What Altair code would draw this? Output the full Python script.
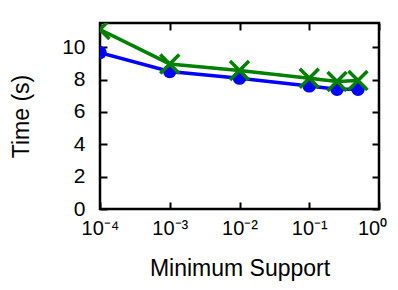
import altair as alt
import pandas as pd

support = [1e-4, 1e-3, 1e-2, 1e-1, 0.25, 0.5]
series_a = [9.67, 8.5, 8.09, 7.61, 7.4, 7.4]
series_b = [11.1, 8.97, 8.56, 8.09, 7.88, 7.94]
x_ticks = [1e-4, 1e-3, 1e-2, 1e-1, 1]
y_ticks = [0, 2, 4, 6, 8, 10]

df = pd.DataFrame({
    "support": support * 2,
    "time": series_a + series_b,
    "series": ["A"] * len(support) + ["B"] * len(support),
})

FONT = "Liberation Sans"
xs = alt.Scale(type="log", domain=[1e-4, 1], nice=False)
ys = alt.Scale(domain=[0, 11.5], nice=False, zero=True)

label_expr = ("datum.value >= 0.9 ? '10⁰' : datum.value >= 0.09 ? '10⁻¹' : "
              "datum.value >= 0.009 ? '10⁻²' : datum.value >= 0.0009 ? '10⁻³' : '10⁻⁴'")

TK = 7
x_bottom = alt.Axis(orient="bottom", values=x_ticks, labelExpr=label_expr, offset=-TK,
                    tickSize=TK, tickWidth=2, tickColor="black", domain=False, grid=False,
                    labelFont=FONT, labelFontSize=20, labelColor="black", labelPadding=9,
                    labelFlush=False, labelOverlap=False, labelBound=False,
                    labelOffset=alt.condition("datum.value >= 0.9", alt.value(-7), alt.value(0)),
                    title="Minimum Support", titleFont=FONT, titleFontSize=23,
                    titleFontWeight="normal", titleColor="black", titlePadding=19)
x_top = alt.Axis(orient="top", values=x_ticks, offset=-TK, tickSize=TK, tickWidth=2,
                 tickColor="black", domain=False, grid=False, labels=False, title=None)
y_left = alt.Axis(orient="left", values=y_ticks, offset=-TK, tickSize=TK, tickWidth=2,
                  tickColor="black", domain=False, grid=False,
                  labelFont=FONT, labelFontSize=21, labelColor="black", labelPadding=15,
                  title="Time (s)", titleFont=FONT, titleFontSize=23,
                  titleFontWeight="normal", titleColor="black", titlePadding=28)
y_right = alt.Axis(orient="right", values=y_ticks, offset=-TK, tickSize=TK, tickWidth=2,
                   tickColor="black", domain=False, grid=False, labels=False, title=None)

base = alt.Chart(df)
a = base.transform_filter(alt.datum.series == "A")
b = base.transform_filter(alt.datum.series == "B")

line_a = a.mark_line(color="#0000ff", strokeWidth=3.5, clip=True).encode(
    x=alt.X("support:Q", scale=xs, axis=x_bottom),
    y=alt.Y("time:Q", scale=ys, axis=y_left),
)
pts_a = a.mark_point(shape="circle", filled=True, opacity=1, color="#0000ff", size=180, clip=True).encode(
    x=alt.X("support:Q", scale=xs, axis=x_top),
    y=alt.Y("time:Q", scale=ys, axis=y_right),
)
line_b = b.mark_line(color="#008000", strokeWidth=3.5, clip=True).encode(
    x=alt.X("support:Q", scale=xs, axis=None),
    y=alt.Y("time:Q", scale=ys, axis=None),
)
pts_b = b.mark_point(shape="M-1,-1L1,1M-1,1L1,-1", filled=False, opacity=1, color="#008000",
                     strokeWidth=3.5, size=360, clip=True).encode(
    x=alt.X("support:Q", scale=xs, axis=None),
    y=alt.Y("time:Q", scale=ys, axis=None),
)

chart = alt.layer(line_a, pts_a, line_b, pts_b).resolve_axis(
    x="independent", y="independent"
).properties(
    width=279, height=186,
    background="white",
    autosize=alt.AutoSizeParams(type="none"),
    padding={"left": 92, "top": 15, "right": 11, "bottom": 73},
).configure_view(stroke="black", strokeWidth=2.5)

chart.save("out.html", embed_options={"renderer": "svg", "actions": False})
